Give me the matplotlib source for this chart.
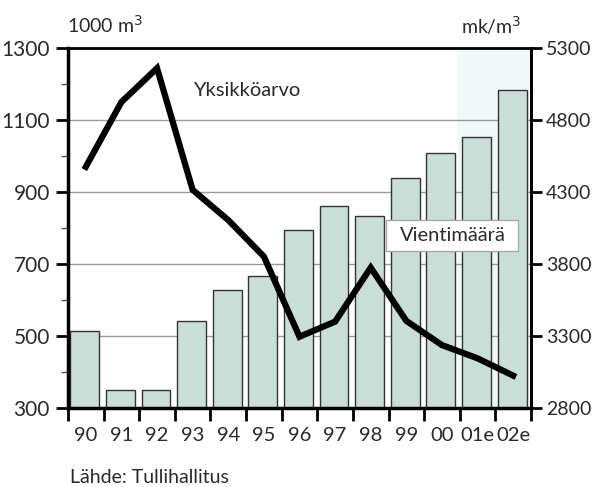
import numpy as np
import matplotlib.pyplot as plt
from matplotlib.patches import Rectangle

plt.rcParams['font.family'] = ['Lato', 'DejaVu Sans']

# Vientimäärä, 1000 m3 (left axis)
years = ['90', '91', '92', '93', '94', '95', '96', '97', '98', '99', '00', '01e', '02e']
volume = [515, 350, 350, 542, 628, 667, 794, 862, 832, 940, 1007, 1052, 1182]
# Yksikköarvo, mk/m3 (right axis)
unit_value = [4475, 4925, 5160, 4315, 4105, 3852, 3295, 3400, 3775, 3405, 3237, 3145, 3025]

x = np.arange(len(years))
txt = '#2a2a2a'

fig = plt.figure(figsize=(5.95, 4.87), dpi=100)
ax = fig.add_axes([0.1143, 0.1622, 0.7781, 0.7392])
ax.set_xlim(-0.5, len(years) - 0.5)
ax.set_ylim(300, 1300)

# faint tint at the right edge of the scan
ax.axvspan(10.43, len(years) - 0.5, color='#f2f8fa', zorder=0, lw=0)

ax.bar(x - 0.03, volume, width=0.81, color='#c9ded6',
       edgecolor='#333333', linewidth=1.0, zorder=2)

ax.set_yticks(np.arange(300, 1301, 200))
ax.set_yticks(np.arange(400, 1300, 200), minor=True)
for v in range(500, 1300, 200):
    ax.axhline(v, color='#9a9a9a', lw=1, zorder=1)

ax.set_xticks(x)
ax.set_xticklabels(years)
ax.set_xticks(np.arange(-0.5, len(years)), minor=True)
ax.tick_params(axis='x', which='major', length=0, pad=14, labelsize=14.5, labelcolor=txt)
ax.tick_params(axis='x', which='minor', length=9, width=2, direction='out')
ax.tick_params(axis='y', which='major', length=9, width=2, pad=4, labelsize=15, labelcolor=txt)
ax.tick_params(axis='y', which='minor', length=5, width=1, color='#555555')

for s in ['left', 'bottom']:
    ax.spines[s].set_linewidth(2.5)
for s in ['top', 'right']:
    ax.spines[s].set_linewidth(2)

ax2 = ax.twinx()
ax2.set_ylim(2800, 5300)
ax2.set_yticks(np.arange(2800, 5301, 500))
ax2.tick_params(axis='y', length=8, width=2, pad=3, labelsize=14, labelcolor=txt)
ax2.spines['right'].set_linewidth(2)
ax2.plot(x, unit_value, color='black', lw=4.5, solid_joinstyle='miter', zorder=3)

ax2.text(3.0, 5008, 'Yksikköarvo', fontsize=14.5, color=txt, va='center', ha='left')
ax2.add_patch(Rectangle((8.43, 3890), 3.71, 215, facecolor='white',
                        edgecolor='#aaaaaa', lw=1, zorder=5))
ax2.text(10.31, 3998, 'Vientimäärä', fontsize=14.5, color=txt, va='center',
         ha='center', zorder=6)

fig.text(0.1126, 0.932, '1000 m$^3$', fontsize=14, color=txt, ha='left', va='baseline')
fig.text(0.877, 0.930, 'mk/m$^3$', fontsize=14, color=txt, ha='right', va='baseline')
fig.text(0.1176, 0.009, 'Lähde: Tullihallitus', fontsize=14, color=txt, ha='left', va='baseline')

fig.savefig('out.png', dpi=100)
